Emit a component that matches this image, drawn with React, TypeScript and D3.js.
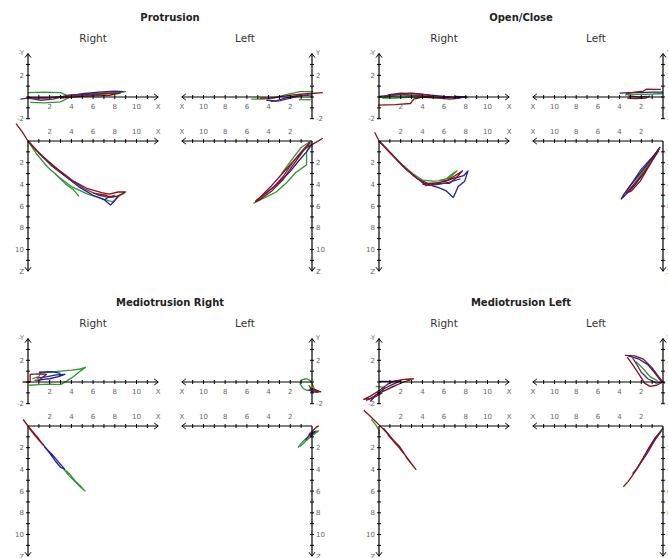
import React from "react";
import * as d3 from "d3";

type Pt = [number, number];
type Trace = { s: string; pts: Pt[] };

// ---------------- data (mm) ----------------
const panelTitles = ["Protrusion", "Open/Close", "Mediotrusion Right", "Mediotrusion Left"];
const sideLabels = ["Right", "Left"];
const xTickLabels = ["2", "4", "6", "8", "10", "X"];
const zTickLabels = ["2", "4", "6", "8", "10", "Z"];
const yTickValues = [2, -2];

// Protrusion
const protRightTop: Trace[] = [
  { s: "green", pts: [[0, 0.4], [1.5, 0.45], [3, 0.4], [3.6, 0.15], [4.5, 0.2], [6, 0.3], [7.5, 0.45], [9, 0.5], [8, 0.35], [6, 0.2], [4, 0.05], [3, -0.45], [1.5, -0.55], [0.2, -0.5]] },
  { s: "blue", pts: [[0.5, -0.1], [2, -0.05], [3.5, 0.05], [5, 0.3], [6.5, 0.45], [8, 0.55], [8.8, 0.5]] },
  { s: "red", pts: [[0, -0.05], [1.5, -0.1], [3, 0], [4, 0.2], [5.5, 0.25], [7, 0.3], [8.5, 0.35], [7.5, 0.15], [5, 0.05], [3, -0.1]] },
  { s: "purple", pts: [[-0.7, -0.2], [0, -0.1], [1.2, -0.3], [2.3, -0.2], [3.5, 0.1], [5, 0.2], [6.5, 0.15]] },
];
const protRightBottom: Trace[] = [
  { s: "green", pts: [[0, 0], [0.8, 1.2], [1.8, 2.4], [2.8, 3.3], [4, 4.2], [5.5, 4.9], [6.8, 5.3], [7.8, 5.6], [8.5, 5.0], [8.9, 4.8]] },
  { s: "green", pts: [[2.5, 3.0], [3.5, 4.0], [4.2, 4.5], [4.7, 5.1]] },
  { s: "blue", pts: [[0, 0], [1, 1.1], [2.2, 2.3], [3.5, 3.3], [4.8, 4.3], [6, 5.0], [7, 5.4], [7.6, 5.9], [8, 5.5], [8.3, 5.1], [7.5, 5.1], [7.1, 5.4]] },
  { s: "purple", pts: [[0, 0], [1.2, 1.3], [2.5, 2.5], [3.8, 3.5], [5.2, 4.4], [6.5, 5.0], [7.5, 5.2], [8.0, 5.0]] },
  { s: "red", pts: [[-1.1, -1.6], [-0.5, -0.8], [0, 0], [0.8, 0.9], [1.8, 1.8], [3, 2.8], [4.2, 3.7], [5.5, 4.4], [6.8, 4.75], [7.5, 4.9], [8.3, 4.7], [9, 4.7], [8.2, 5.1], [7.6, 5.2], [7.2, 5.0], [6, 4.8]] },
];
const protLeftTop: Trace[] = [
  { s: "green", pts: [[5.6, -0.2], [4.5, -0.2], [3.5, -0.1], [2.5, 0.2], [1.1, 0.5], [-0.1, 0.5]] },
  { s: "green", pts: [[1.2, -0.25], [0.1, -0.25]] },
  { s: "blue", pts: [[4.2, -0.3], [3.3, -0.35], [2.5, -0.1], [1.5, 0.1], [0.5, 0.15], [0, 0.2]] },
  { s: "purple", pts: [[3.8, -0.4], [3, -0.35], [2, -0.1], [1.2, 0.1], [0.3, 0.2]] },
  { s: "red", pts: [[4.8, -0.1], [3.8, -0.1], [2.8, 0.05], [1.7, 0.2], [0.5, 0.3], [-1, 0.4]] },
];
const protLeftBottom: Trace[] = [
  { s: "green", pts: [[0, 0], [0.5, 1.0], [0.5, 2.2], [1.5, 2.9], [2.3, 3.8], [3.3, 4.7], [4.3, 5.2], [5.4, 5.75]] },
  { s: "green", pts: [[0.1, 0], [1, 0.6], [2, 1.9], [2.8, 3.0]] },
  { s: "blue", pts: [[0, 0.3], [0.5, 1.0], [1.2, 1.8], [2, 2.8], [2.8, 3.6], [3.6, 4.3], [4.5, 5.0], [5.2, 5.5]] },
  { s: "purple", pts: [[0.2, 0.1], [1, 1.0], [1.8, 2.0], [2.6, 3.2], [3.4, 4.1], [4.2, 4.8], [5, 5.4]] },
  { s: "red", pts: [[-1, -0.25], [-0.4, 0.1], [0.5, 0.6], [1.3, 1.4], [2.2, 2.4], [3, 3.3], [3.8, 4.2], [4.6, 5.0], [5.2, 5.6], [4.8, 5.4], [3.7, 4.6], [2.7, 3.6], [1.8, 2.3], [0.8, 0.9], [0.2, 0.2]] },
];

// Open / Close
const openRightTop: Trace[] = [
  { s: "green", pts: [[0, -0.05], [1, 0.05], [2.2, 0.1], [3.2, 0.15], [4.2, 0.05], [5.5, -0.05], [7.2, -0.1], [5, -0.05], [3, 0], [1.5, -0.1], [0.3, -0.1]] },
  { s: "blue", pts: [[0, 0.05], [1.5, 0.2], [3, 0.35], [4.5, 0.2], [6, 0.05], [7.5, -0.05], [8.1, 0], [7, 0.05]] },
  { s: "purple", pts: [[0.5, 0.1], [2, 0.25], [3.5, 0.15], [5, 0.0], [6.5, -0.05]] },
  { s: "red", pts: [[-0.1, -0.75], [1.5, -0.7], [2.9, -0.6], [3.2, -0.2], [4, 0], [5.5, -0.1], [6.5, -0.2], [7.5, -0.1]] },
  { s: "red", pts: [[0.8, 0.2], [2, 0.35], [3.5, 0.3], [5, 0.1]] },
];
const openRightBottom: Trace[] = [
  { s: "blue", pts: [[0, 0], [1, 1.05], [2.2, 2.3], [3.3, 3.3], [4.2, 3.9], [5.5, 4.3], [6.2, 4.6], [6.85, 5.2], [7.3, 4.2], [7.9, 3.7], [8.2, 2.75], [7.8, 3.2], [7.1, 3.4], [6.5, 3.9], [5.5, 3.9], [4.6, 4.1]] },
  { s: "green", pts: [[0, 0], [0.9, 0.95], [2, 2.05], [3.1, 3.0], [4, 3.6], [5, 3.7], [6, 3.65], [6.8, 3.0], [7.2, 2.75], [6.5, 3.4], [5.5, 3.65]] },
  { s: "purple", pts: [[0, 0], [1.2, 1.3], [2.5, 2.6], [3.7, 3.6], [4.3, 4.1], [5.5, 4.0], [6.5, 3.8], [7.5, 3.5]] },
  { s: "red", pts: [[-0.4, -0.8], [0, 0], [0.6, 0.6], [1.6, 1.65], [2.6, 2.7], [3.6, 3.5], [4.5, 3.9], [5.5, 3.85], [6.3, 3.6], [7, 3.2], [7.7, 2.75], [7.2, 3.3], [6.2, 3.7], [5, 3.95], [4, 4.0]] },
];
const openLeftTop: Trace[] = [
  { s: "blue", pts: [[4, 0.35], [3, 0.4], [2, 0.4], [1, 0.45], [0, 0.45]] },
  { s: "green", pts: [[3.5, 0.2], [2.5, 0.25], [1.5, 0.25], [0.5, 0.3], [0, 0.3]] },
  { s: "purple", pts: [[3.2, 0.1], [2.2, 0.0], [1.5, 0.05]] },
  { s: "red", pts: [[3.4, 0.3], [2.6, 0.45], [1.8, 0.55], [1.5, 0.72], [0.8, 0.7], [0.2, 0.7]] },
  { s: "red", pts: [[3.3, -0.1], [2.5, -0.15], [1.6, -0.1], [1.2, 0.1]] },
];
const openLeftBottom: Trace[] = [
  { s: "green", pts: [[0.4, 0.7], [1.2, 1.9], [2, 3.0], [2.7, 4.0], [3.2, 4.6]] },
  { s: "purple", pts: [[0.3, 0.7], [1.1, 1.6], [2, 2.6], [2.8, 3.8], [3.3, 4.5]] },
  { s: "blue", pts: [[0.25, 0.55], [0.8, 1.3], [1.5, 2.2], [2.3, 3.2], [3, 4.1], [3.6, 4.9], [3.85, 5.35], [3.5, 5.0], [2.7, 4.2], [1.8, 3.0], [1, 1.8], [0.4, 0.9]] },
  { s: "red", pts: [[0.3, 0.6], [1, 1.8], [1.7, 2.8], [2.4, 3.7], [3.1, 4.5], [3.4, 4.8], [2.9, 4.6], [2.1, 3.7], [1.4, 2.5], [0.7, 1.3]] },
];

// Mediotrusion Right
const medRRightTop: Trace[] = [
  { s: "green", pts: [[0.1, -0.3], [1, -0.25], [2, -0.2], [3, -0.25], [3.6, 0.1], [4.2, 0.5], [4.8, 1.0], [5.3, 1.35], [4.8, 1.2], [4, 1.1], [3, 1.0], [2, 0.9], [1.2, 0.85], [1, 0.5], [0.4, 0.3]] },
  { s: "blue", pts: [[0.8, 0.35], [1.8, 0.5], [2.6, 0.65], [3.4, 0.7], [2.8, 0.5], [2, 0.3], [1.4, 0.25], [0.9, 0.15]] },
  { s: "blue", pts: [[1.0, 0.9], [2.2, 0.95], [3.0, 0.8]] },
  { s: "red", pts: [[-0.5, 0.0], [0.2, 0.0], [0.2, 0.7], [1, 0.75], [1.7, 0.7], [1.3, 0.4], [1.1, 0.2], [0.6, 0.15]] },
];
const medRRightBottom: Trace[] = [
  { s: "green", pts: [[3.3, 4.0], [3.8, 4.6], [4.3, 5.1], [4.8, 5.6], [5.25, 6.0], [4.9, 5.6], [4.4, 5.1], [3.9, 4.5], [3.5, 4.1]] },
  { s: "blue", pts: [[1.3, 1.6], [1.8, 2.2], [2.3, 2.7], [2.8, 3.3], [3.4, 4.0], [3.0, 3.8], [2.5, 3.2], [2.0, 2.5], [1.5, 1.9]] },
  { s: "red", pts: [[-0.45, -0.6], [0, 0], [0.5, 0.6], [1, 1.2], [1.4, 1.75], [1.0, 1.3], [0.5, 0.7], [0.1, 0.2]] },
];
const medRLeftTop: Trace[] = [
  { s: "green", pts: [[0.1, 0.1], [0.5, 0.3], [1.0, 0.2], [1.1, -0.2], [0.8, -0.6], [0.4, -0.8], [-0.2, -0.6], [0.0, -0.1]] },
  { s: "blue", pts: [[0.3, -0.7], [0, -0.9], [-0.6, -0.95]] },
  { s: "red", pts: [[0.3, -0.3], [0.1, -0.6], [-0.3, -0.7], [-0.8, -0.9], [-0.3, -0.85], [0.2, -0.6]] },
];
const medRLeftBottom: Trace[] = [
  { s: "green", pts: [[1.3, 2.0], [1.0, 1.6], [0.6, 1.2], [0.2, 0.9], [-0.3, 0.5], [-0.6, 0.45], [0, 0.9], [0.6, 1.4], [1.1, 1.9]] },
  { s: "blue", pts: [[0.6, 1.3], [0.3, 0.9], [0, 0.6], [-0.3, 0.5], [0.2, 0.9]] },
  { s: "red", pts: [[0.3, 0.8], [0, 0.5], [-0.4, 0.1], [-0.6, 0], [-0.3, 0.2], [0.1, 0.6]] },
];

// Mediotrusion Left
const medLRightTop: Trace[] = [
  { s: "green", pts: [[-0.3, -0.4], [0.5, -0.5], [0.3, -0.9], [1, -0.6], [1.6, -0.3]] },
  { s: "blue", pts: [[-0.8, -1.8], [-0.3, -1.2], [0.5, -0.6], [1.3, -0.2], [2.0, 0.1], [1.2, 0.05], [0.5, 0.05], [0, 0.05]] },
  { s: "purple", pts: [[-1.2, -1.7], [-0.4, -1.4], [0.3, -1.0]] },
  { s: "red", pts: [[3.2, 0.3], [2.3, 0.25], [1.5, 0.1], [0.8, -0.2], [0, -0.8], [-0.8, -1.3], [-1.4, -1.6], [-0.8, -1.5], [0.3, -0.9], [1.3, -0.4], [2.3, 0.0], [3.0, 0.25]] },
];
const medLRightBottom: Trace[] = [
  { s: "green", pts: [[-0.7, -0.6], [-0.3, -0.1], [0, 0.4], [0, 0.8]] },
  { s: "blue", pts: [[0.4, 0.2], [0.9, 0.8], [1.4, 1.4], [1.9, 1.9]] },
  { s: "red", pts: [[-1.4, -1.45], [-0.8, -0.9], [0, -0.1], [0.7, 0.6], [1.3, 1.3], [1.9, 1.9], [2.3, 2.5], [2.6, 3.0], [3.0, 3.5], [3.4, 4.0], [3.1, 3.6], [2.5, 2.8], [1.6, 1.7], [0.8, 0.8]] },
];
const medLLeftTop: Trace[] = [
  { s: "green", pts: [[2.5, 1.9], [1.8, 1.2], [1.2, 0.5], [0.5, 0.1]] },
  { s: "blue", pts: [[3.2, 2.4], [2.2, 2.1], [1.4, 1.6], [0.8, 0.9], [0.2, 0.1], [-0.2, -0.1]] },
  { s: "purple", pts: [[2.8, 2.2], [2.4, 1.6], [2.0, 0.9], [1.4, 0.3], [0.6, -0.1], [-0.1, 0]] },
  { s: "red", pts: [[3.5, 2.45], [2.6, 2.4], [1.8, 2.1], [1.0, 1.3], [0.4, 0.5], [0, 0], [0.6, -0.3], [1.2, -0.4], [1.7, -0.1], [2.2, 0.7], [2.8, 1.6], [3.3, 2.3]] },
];
const medLLeftBottom: Trace[] = [
  { s: "blue", pts: [[0, 0.2], [0.4, 0.7], [0.8, 1.2], [1.3, 2.0], [1.8, 2.9], [2.4, 3.9], [2.8, 4.4]] },
  { s: "purple", pts: [[0.2, 0.5], [0.8, 1.4], [1.5, 2.6], [2.2, 3.6]] },
  { s: "red", pts: [[3.65, 5.6], [3.2, 5.1], [2.7, 4.4], [2.3, 3.8], [1.9, 3.1], [1.5, 2.4], [1.0, 1.6], [0.5, 0.9], [0.1, 0.4]] },
];

const panelData: Trace[][][] = [
  [protRightTop, protRightBottom, protLeftTop, protLeftBottom],
  [openRightTop, openRightBottom, openLeftTop, openLeftBottom],
  [medRRightTop, medRRightBottom, medRLeftTop, medRLeftBottom],
  [medLRightTop, medLRightBottom, medLLeftTop, medLLeftBottom],
];

// ---------------- styling ----------------
const COLORS: Record<string, string> = {
  green: "#2f9a2f",
  blue: "#1e1e9a",
  red: "#8a1212",
  purple: "#5b2872",
};
const U = 10.85;
const TICK_FONT = "Verdana, 'DejaVu Sans', sans-serif";

function Chart({ ox, oy, side, view, traces }: { ox: number; oy: number; side: "R" | "L"; view: "T" | "B"; traces: Trace[] }) {
  const dir = side === "R" ? 1 : -1;
  const xs = d3.scaleLinear().domain([0, 12]).range([ox, ox + dir * 12 * U]);
  const ys =
    view === "T"
      ? d3.scaleLinear().domain([0, 1]).range([oy, oy - U])
      : d3.scaleLinear().domain([0, 1]).range([oy, oy + U]);
  const line = d3
    .line<Pt>()
    .x((d) => xs(d[0]))
    .y((d) => ys(d[1]));

  const xTicks = d3.range(1, 12);
  const yTicks = view === "T" ? d3.range(-2, 4) : d3.range(1, 12);
  const xEnd = xs(12);
  const yEnd = view === "T" ? ys(4) : ys(12);
  const yStart = view === "T" ? ys(-2) : oy;
  const ah = 4;
  const aw = 3;
  const labAnchor = side === "R" ? "end" : "start";
  const labX = side === "R" ? ox - 4 : ox + 4;
  const xLabY = view === "T" ? oy + 12 : oy - 7;

  return (
    <g>
      {traces.map((t, i) => (
        <path key={i} d={line(t.pts) || ""} fill="none" stroke={COLORS[t.s]} strokeWidth={1.3} strokeLinejoin="round" />
      ))}
      <line x1={ox} y1={oy} x2={xEnd} y2={oy} stroke="#000" strokeWidth={1.2} />
      <polyline points={`${xEnd - dir * ah},${oy - aw} ${xEnd},${oy} ${xEnd - dir * ah},${oy + aw}`} fill="none" stroke="#000" strokeWidth={1} />
      {xTicks.map((v) => (
        <line key={v} x1={xs(v)} x2={xs(v)} y1={oy - 2} y2={oy + 2} stroke="#000" strokeWidth={1} />
      ))}
      {xTickLabels.map((lab, i) => (
        <text key={lab} x={xs((i + 1) * 2)} y={xLabY} fontSize={7} fill="#666" textAnchor="middle" fontFamily={TICK_FONT}>
          {lab}
        </text>
      ))}
      <line x1={ox} y1={yStart} x2={ox} y2={yEnd} stroke="#000" strokeWidth={1.2} />
      {view === "T" ? (
        <polyline points={`${ox - aw},${yEnd + ah} ${ox},${yEnd} ${ox + aw},${yEnd + ah}`} fill="none" stroke="#000" strokeWidth={1} />
      ) : (
        <polyline points={`${ox - aw},${yEnd - ah} ${ox},${yEnd} ${ox + aw},${yEnd - ah}`} fill="none" stroke="#000" strokeWidth={1} />
      )}
      {yTicks.map((v) => (
        <line key={v} x1={ox - 2} x2={ox + 2} y1={ys(v)} y2={ys(v)} stroke="#000" strokeWidth={1} />
      ))}
      {view === "T" ? (
        <>
          {yTickValues.map((v) => (
            <text key={v} x={labX} y={ys(v) + 2.5} fontSize={7} fill="#666" textAnchor={labAnchor} fontFamily={TICK_FONT}>
              {v}
            </text>
          ))}
          <text x={labX} y={ys(4) + 1} fontSize={6.5} fill="#666" textAnchor={labAnchor} fontFamily={TICK_FONT}>
            {side === "R" ? "-Y" : "Y"}
          </text>
        </>
      ) : (
        zTickLabels.map((lab, i) => (
          <text key={lab} x={labX} y={ys((i + 1) * 2) + 2.5} fontSize={7} fill="#666" textAnchor={labAnchor} fontFamily={TICK_FONT}>
            {lab}
          </text>
        ))
      )}
    </g>
  );
}

export default function App() {
  const colDx = 351;
  const rowDy = 285;
  return (
    <svg width={668} height={558} style={{ position: "absolute", left: 0, top: 0, background: "#fff" }} xmlns="http://www.w3.org/2000/svg">
      <rect width={668} height={558} fill="#fff" />
      {panelTitles.map((title, p) => {
        const dx = (p % 2) * colDx;
        const dy = Math.floor(p / 2) * rowDy;
        const [rt, rb, lt, lb] = panelData[p];
        return (
          <g key={title}>
            <text x={170 + dx} y={21 + dy} textAnchor="middle" fontSize={10} fontWeight="bold" fill="#222" fontFamily="Tahoma, 'DejaVu Sans', sans-serif">
              {title}
            </text>
            <text x={93 + dx} y={42 + dy} textAnchor="middle" fontSize={10.5} fill="#333" fontFamily="Tahoma, 'DejaVu Sans', sans-serif">
              {sideLabels[0]}
            </text>
            <text x={245 + dx} y={42 + dy} textAnchor="middle" fontSize={10.5} fill="#333" fontFamily="Tahoma, 'DejaVu Sans', sans-serif">
              {sideLabels[1]}
            </text>
            <Chart ox={28 + dx} oy={97 + dy} side="R" view="T" traces={rt} />
            <Chart ox={28 + dx} oy={141 + dy} side="R" view="B" traces={rb} />
            <Chart ox={312 + dx} oy={97 + dy} side="L" view="T" traces={lt} />
            <Chart ox={312 + dx} oy={141 + dy} side="L" view="B" traces={lb} />
          </g>
        );
      })}
    </svg>
  );
}
